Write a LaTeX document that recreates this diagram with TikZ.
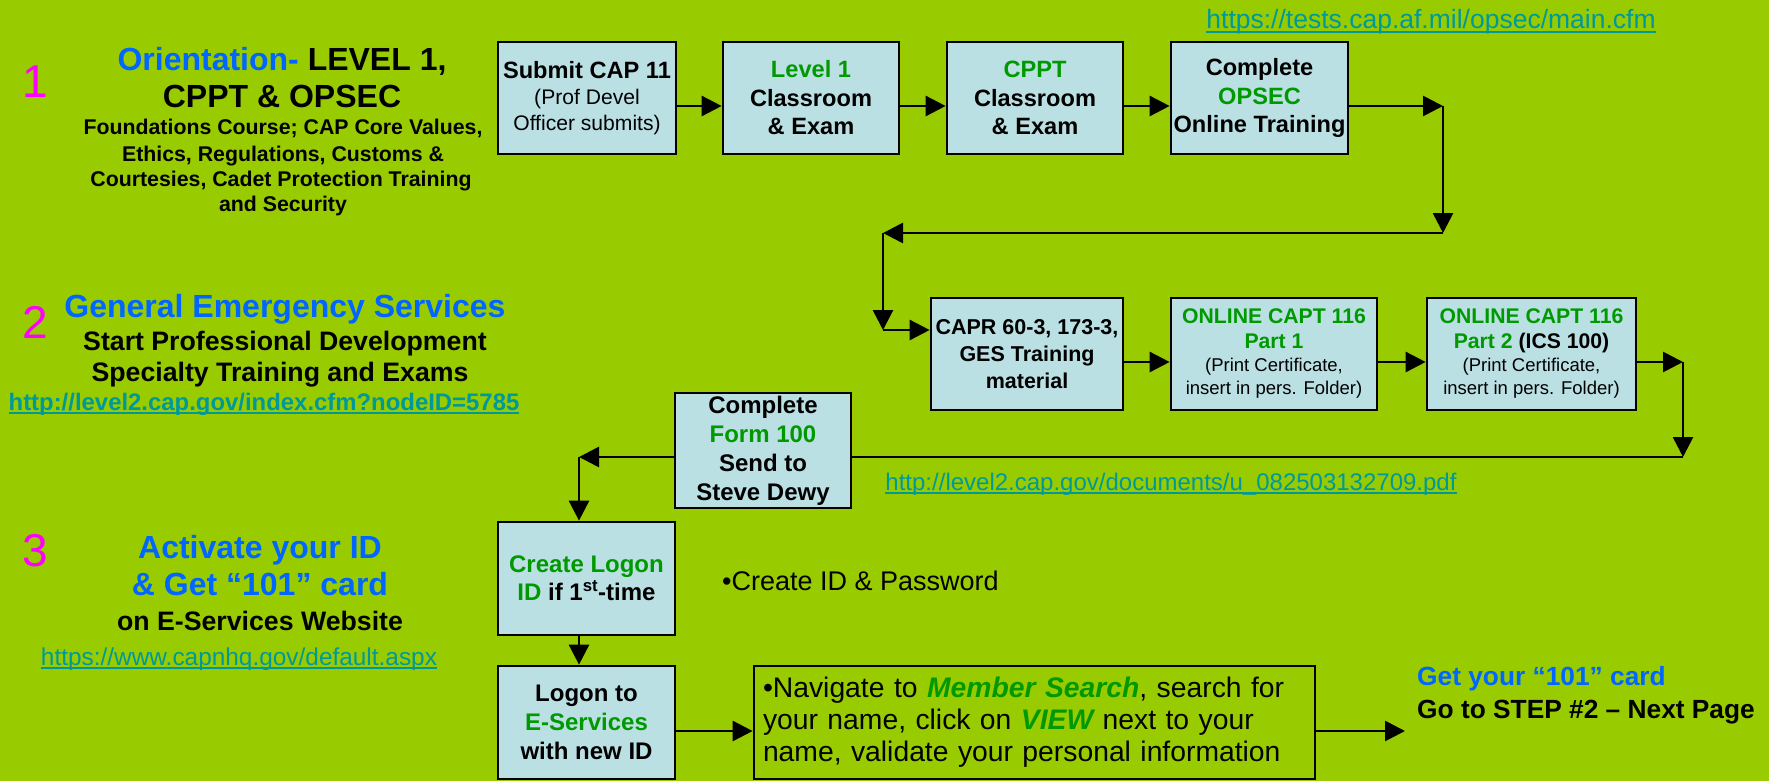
\documentclass[tikz,border=0pt]{standalone}
\usepackage{fontspec}
\setmainfont{Liberation Sans}
\usetikzlibrary{arrows.meta}
\definecolor{bg}{RGB}{153,204,0}
\definecolor{boxfill}{RGB}{186,224,228}
\definecolor{grn}{RGB}{0,153,0}
\definecolor{blu}{RGB}{0,102,255}
\definecolor{mag}{RGB}{255,0,255}
\definecolor{lnkc}{RGB}{0,153,153}
\newcommand\fsz[2]{\fontsize{#1}{#2}\selectfont}
\newcommand\ulink[1]{\setbox0=\hbox{#1}\rlap{\rule[-0.15em]{\wd0}{0.07em}}\box0}
\tikzset{
  box/.style={draw=black, line width=2.7pt, fill=boxfill, inner sep=0pt, align=center},
  arr/.style={line width=2.7pt, -{Triangle[length=20pt,width=20pt]}},
  plain/.style={line width=2.7pt},
  txt/.style={inner sep=0pt, anchor=base},
  txtl/.style={inner sep=0pt, anchor=base west},
}
\begin{document}
\begin{tikzpicture}[x=1pt,y=-1pt]
\fill[bg] (0,0) rectangle (1769,781);
\useasboundingbox (0,0) rectangle (1769,781);

% ---------- Row 1 left text ----------
\node[txt, text=mag, font=\fsz{46}{50}] (n1) at (35,98) {1};
\node[txt, font=\bfseries\fsz{32}{37}] (t1a) at (282,71) {{\color{blu}Orientation-} LEVEL 1,};
\node[txt, font=\bfseries\fsz{32}{37}] (t1b) at (282,108) {CPPT \& OPSEC};
\node[txt, font=\bfseries\fsz{21.3}{25}] (s1a) at (283,135) {Foundations Course; CAP Core Values,};
\node[txt, font=\bfseries\fsz{21.3}{25}] (s1b) at (283,161) {Ethics, Regulations, Customs \&};
\node[txt, font=\bfseries\fsz{21.3}{25}] (s1c) at (281,186) {Courtesies, Cadet Protection Training};
\node[txt, font=\bfseries\fsz{21.3}{25}] (s1d) at (283,211) {and Security};
\node[txt, text=lnkc, font=\fsz{26.5}{30}] (link1) at (1431,29) {\ulink{https://tests.cap.af.mil/opsec/main.cfm}};

% ---------- Row 1 boxes ----------
\node[box, minimum width=178, minimum height=112, font=\bfseries\fsz{23.6}{26}] (submit) at (587,98)
  {Submit CAP 11\\\mdseries\fsz{21.1}{26}(Prof Devel\\\mdseries\fsz{21.1}{26}Officer submits)};
\node[box, minimum width=176, minimum height=112, font=\bfseries\fsz{23.6}{28.5}] (level1) at (811,98)
  {\color{grn}Level 1\\Classroom\\\& Exam};
\node[box, minimum width=176, minimum height=112, font=\bfseries\fsz{23.6}{28.5}] (cppt) at (1035,98)
  {\color{grn}CPPT\\Classroom\\\& Exam};
\node[box, minimum width=177, minimum height=112, font=\bfseries\fsz{23.6}{28.5}] (opsec) at (1259.5,98)
  {Complete\\\color{grn}OPSEC\\Online Training};

\coordinate (c1) at (1443,106);
\coordinate (c2) at (1443,233);
\coordinate (c3) at (883,233);
\coordinate (c4) at (883,330);

\draw[arr] (submit.east |- c1) -- (level1.west |- c1);
\draw[arr] (level1.east |- c1) -- (cppt.west |- c1);
\draw[arr] (cppt.east |- c1) -- (opsec.west |- c1);
\draw[arr] (opsec.east |- c1) -- (c1);
\draw[arr] (c1) -- (c2);
\draw[arr] (c2) -- (c3);
\draw[arr] (c3) -- (c4);

% ---------- Row 2 left text ----------
\node[txt, text=mag, font=\fsz{46}{50}] (n2) at (35,338) {2};
\node[txt, text=blu, font=\bfseries\fsz{32}{37}] (t2a) at (285,317) {General Emergency Services};
\node[txt, font=\bfseries\fsz{26.7}{31}] (t2b) at (285,350) {Start Professional Development};
\node[txt, font=\bfseries\fsz{26.7}{31}] (t2c) at (280,381) {Specialty Training and Exams};
\node[txt, text=lnkc, font=\bfseries\fsz{23.9}{28}] (link2) at (264,410) {\ulink{http://level2.cap.gov/index.cfm?nodeID=5785}};

% ---------- Row 2 boxes ----------
\node[box, minimum width=192, minimum height=112, font=\bfseries\fsz{21.5}{27}] (capr) at (1027,354)
  {CAPR 60-3, 173-3,\\GES Training\\material};
\node[box, minimum width=206, minimum height=112, font=\bfseries\fsz{21.2}{23}] (part1) at (1274,354)
  {\color{grn}ONLINE CAPT 116\\[2pt]\color{grn}Part 1\\\mdseries\fsz{18.5}{23}(Print Certificate,\\\mdseries\fsz{18.5}{23}insert in pers. Folder)};
\node[box, minimum width=209, minimum height=112, font=\bfseries\fsz{21.2}{23}] (part2) at (1531.5,354)
  {\color{grn}ONLINE CAPT 116\\[2pt]{\color{grn}Part 2} (ICS 100)\\\mdseries\fsz{18.5}{23}(Print Certificate,\\\mdseries\fsz{18.5}{23}insert in pers. Folder)};

\coordinate (c5) at (1683,362);
\coordinate (c6) at (1683,457);
\coordinate (c7) at (579,457);

\draw[arr] (c4) -- (capr.west |- c4);
\draw[arr] (capr.east |- c5) -- (part1.west |- c5);
\draw[arr] (part1.east |- c5) -- (part2.west |- c5);
\draw[arr] (part2.east |- c5) -- (c5);
\draw[arr] (c5) -- (c6);

\node[box, minimum width=176, minimum height=115, font=\bfseries\fsz{24}{29}] (form) at (763,450.5)
  {Complete\\\color{grn}Form 100\\Send to\\Steve Dewy};
\draw[plain] (c6) -- (form.east |- c6);
\draw[arr] (form.west |- c6) -- (c7);

\node[txt, text=lnkc, font=\fsz{24}{28}] (link3) at (1171,490) {\ulink{http://level2.cap.gov/documents/u\_082503132709.pdf}};

% ---------- Row 3 ----------
\node[txt, text=mag, font=\fsz{46}{50}] (n3) at (35,566) {3};
\node[txt, text=blu, font=\bfseries\fsz{32}{37}] (t3a) at (260,558) {Activate your ID};
\node[txt, text=blu, font=\bfseries\fsz{32}{37}] (t3b) at (260,595) {\& Get “101” card};
\node[txt, font=\bfseries\fsz{26.7}{31}] (t3c) at (260,630) {on E-Services Website};
\node[txt, text=lnkc, font=\fsz{24.4}{28}] (link4) at (239,665) {\ulink{https://www.capnhq.gov/default.aspx}};

\node[box, minimum width=177, minimum height=113, font=\bfseries\fsz{24}{28}] (create) at (586.5,578.5)
  {\color{grn}Create Logon\\{\color{grn}ID} if 1\textsuperscript{st}-time};
\node[box, minimum width=177, minimum height=113, font=\bfseries\fsz{24}{29}] (logon) at (586.5,722.5)
  {Logon to\\\color{grn}E-Services\\with new ID};
\node[box, fill=none, text width=543, inner xsep=9pt, minimum height=113, align=left, font=\fsz{28.3}{32}] (nav) at (1034.5,722.5)
  {•Navigate to \textbf{\textit{\color{grn}Member Search}}, search for\\your name, click on \textbf{\textit{\color{grn}VIEW}} next to your\\name, validate your personal information};

\node[txtl, font=\fsz{27}{31}] (pw) at (722,590) {•Create ID \& Password};

\coordinate (c8) at (1405,731);
\draw[arr] (c7) -- (create.north -| c7);
\draw[arr] (create.south -| c7) -- (logon.north -| c7);
\draw[arr] (logon.east |- c8) -- (nav.west |- c8);
\draw[arr] (nav.east |- c8) -- (c8);

\node[txtl, text=blu, font=\bfseries\fsz{26.3}{31}] (get) at (1417,685) {Get your “101” card};
\node[txtl, font=\bfseries\fsz{26.3}{31}] (go) at (1417,718) {Go to STEP \#2 – Next Page};
\end{tikzpicture}
\end{document}
